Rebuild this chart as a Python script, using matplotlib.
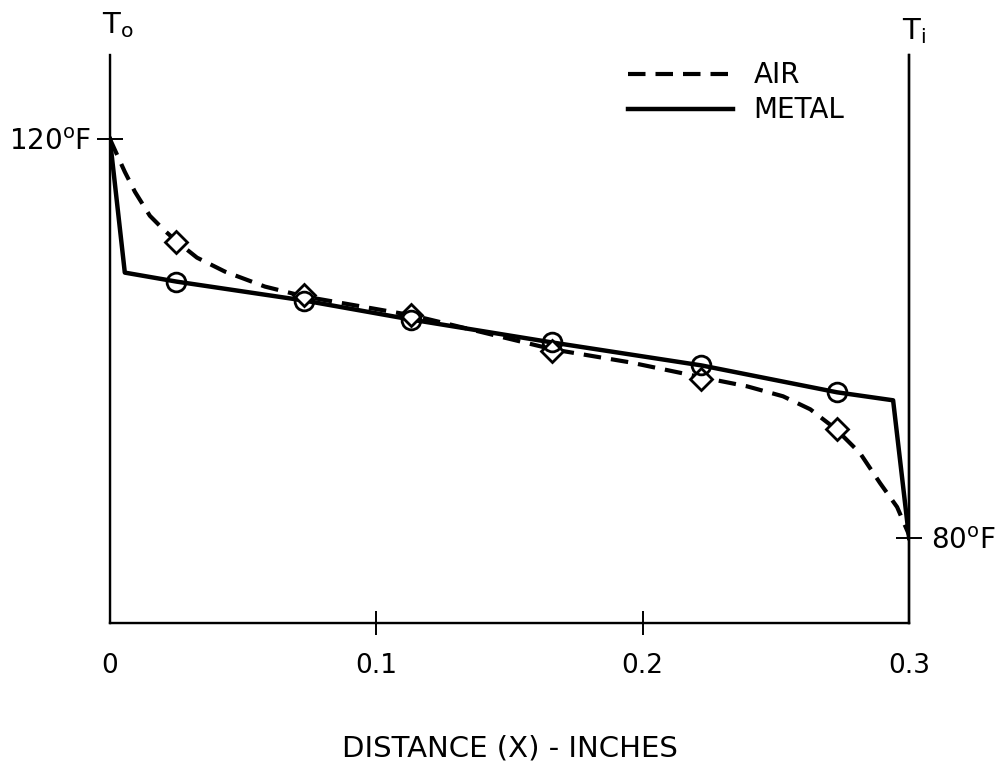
import matplotlib
matplotlib.use("Agg")
import matplotlib.pyplot as plt

plt.rcParams['font.family'] = ['DejaVu Sans']
plt.rcParams['mathtext.fontset'] = 'dejavusans'

# air temperature curve
air_x = [0.0, 0.0056, 0.0094, 0.015, 0.0202, 0.0252, 0.0327, 0.0432, 0.0582, 0.0732,
         0.1138, 0.1664, 0.1953, 0.2223, 0.2392, 0.2527, 0.2629, 0.2726,
         0.2816, 0.2891, 0.2955, 0.3]
air_t = [120.0, 116.7, 114.7, 112.3, 110.9, 109.7, 108.1, 106.7, 105.2, 104.2,
         102.3, 98.9, 97.6, 96.1, 95.2, 94.2, 92.9, 90.9,
         88.5, 85.5, 83.1, 80.3]
# measured air points (diamonds)
air_pts_x = [0.025, 0.073, 0.113, 0.166, 0.222, 0.273]
air_pts_t = [109.7, 104.4, 102.4, 98.7, 95.9, 90.9]

# metal temperature (solid line)
metal_x = [0.0, 0.0056, 0.025, 0.073, 0.113, 0.166, 0.222, 0.273, 0.294, 0.3]
metal_t = [120.0, 106.6, 105.7, 103.8, 101.9, 99.6, 97.3, 94.6, 93.8, 80.0]
metal_pts_x = [0.025, 0.073, 0.113, 0.166, 0.222, 0.273]
metal_pts_t = [105.7, 103.8, 101.9, 99.6, 97.3, 94.6]

fig = plt.figure(figsize=(9.99, 7.66), dpi=100)
ax = fig.add_axes([0.110, 0.187, 0.800, 0.741])

ax.plot(air_x, air_t, color='black', lw=3.0, linestyle=(0, (4.2, 2.4)), label='AIR')
ax.plot(metal_x, metal_t, color='black', lw=3.2, label='METAL')
ax.plot(air_pts_x, air_pts_t, 'D', ms=11, mfc='white', mec='black', mew=2.0)
ax.plot(metal_pts_x, metal_pts_t, 'o', ms=13.5, mfc='none', mec='black', mew=2.0)

ax.set_xlim(0, 0.3)
ax.set_ylim(71.5, 128.4)
ax.spines['top'].set_visible(False)
for s in ['left', 'right', 'bottom']:
    ax.spines[s].set_linewidth(1.7)

ax.set_xticks([0, 0.1, 0.2, 0.3])
ax.set_xticklabels(['0', '0.1', '0.2', '0.3'])
ax.tick_params(axis='x', direction='inout', length=17, width=1.4, pad=13, labelsize=19)
ticks = ax.xaxis.get_major_ticks()
ticks[0].tick1line.set_visible(False)
ticks[-1].tick1line.set_visible(False)

ax.set_yticks([120])
ax.set_yticklabels(['120$^{\\mathrm{o}}$F'])
ax.tick_params(axis='y', direction='inout', length=19, width=1.4, pad=4, labelsize=20)

ax2 = ax.twinx()
ax2.set_ylim(ax.get_ylim())
ax2.spines['top'].set_visible(False)
ax2.spines['right'].set_linewidth(1.7)
ax2.set_yticks([80])
ax2.set_yticklabels(['80$^{\\mathrm{o}}$F'])
ax2.tick_params(axis='y', direction='inout', length=19, width=1.4, pad=6, labelsize=20)

ax.set_xlabel('DISTANCE (X) - INCHES', fontsize=21, labelpad=40)

fig.text(0.118, 0.967, 'T$_{\\mathrm{o}}$', fontsize=21, ha='center', va='center')
fig.text(0.915, 0.960, 'T$_{\\mathrm{i}}$', fontsize=21, ha='center', va='center')

ax.legend(loc='upper left', bbox_to_anchor=(0.629, 0.920), bbox_transform=fig.transFigure,
          frameon=False, fontsize=20, handlelength=3.75, handletextpad=0.75,
          borderpad=0, borderaxespad=0, labelspacing=0.25)

fig.savefig('out.png', dpi=100)
